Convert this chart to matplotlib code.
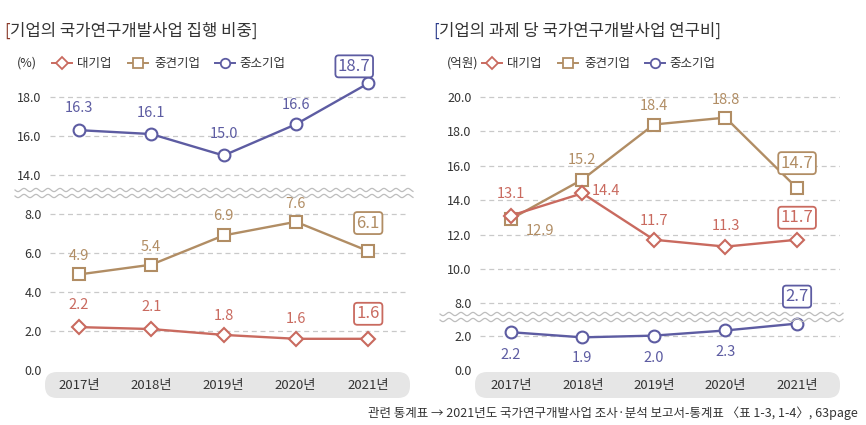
import numpy as np
import matplotlib
matplotlib.use("Agg")
import matplotlib.pyplot as plt
from matplotlib.lines import Line2D
from matplotlib.patches import FancyBboxPatch
from matplotlib.transforms import IdentityTransform

plt.rcParams['font.family'] = ['Noto Sans CJK KR', 'DejaVu Sans']

# ---------------- data ----------------
years = ['2017년', '2018년', '2019년', '2020년', '2021년']
series_names = ['대기업', '중견기업', '중소기업']

share_large = [2.2, 2.1, 1.8, 1.6, 1.6]
share_mid = [4.9, 5.4, 6.9, 7.6, 6.1]
share_small = [16.3, 16.1, 15.0, 16.6, 18.7]

cost_large = [13.1, 14.4, 11.7, 11.3, 11.7]
cost_mid = [12.9, 15.2, 18.4, 18.8, 14.7]
cost_small = [2.2, 1.9, 2.0, 2.3, 2.7]

left_title = '기업의 국가연구개발사업 집행 비중'
right_title = '기업의 과제 당 국가연구개발사업 연구비'
left_unit = '(%)'
right_unit = '(억원)'
footnote = '관련 통계표 → 2021년도 국가연구개발사업 조사·분석 보고서-통계표 〈표 1-3, 1-4〉, 63page'

# ---------------- style ----------------
W, H = 866, 425
C_RED = '#c96a5f'
C_TAN = '#b18d64'
C_PUR = '#5d5ca2'
C_TXT = '#333333'
C_GRID = '#c9c9c9'
MARK = {'대기업': ('D', 7.5), '중견기업': ('s', 8.5), '중소기업': ('o', 8.5)}
COL = {'대기업': C_RED, '중견기업': C_TAN, '중소기업': C_PUR}

fig = plt.figure(figsize=(W / 100, H / 100), dpi=100)
fig.patch.set_facecolor('white')


def rect(x0, y0, x1, y1):
    return [x0 / W, 1 - y1 / H, (x1 - x0) / W, (y1 - y0) / H]


def fx(x):
    return x / W


def fy(y):
    return 1 - y / H


def make_ax(r, ylim, ticks, xlim):
    ax = fig.add_axes(r)
    ax.set_facecolor('none')
    ax.set_xlim(*xlim)
    ax.set_ylim(*ylim)
    ax.set_yticks(ticks)
    ax.set_yticklabels([f'{t:.1f}' for t in ticks], fontsize=9, color=C_TXT)
    ax.tick_params(axis='y', length=0, pad=6)
    ax.set_xticks([])
    for s in ax.spines.values():
        s.set_visible(False)
    for t in ticks:
        if t > 0:
            ax.axhline(t, color=C_GRID, lw=0.9, ls=(0, (4, 3)), zorder=0)
    return ax


def plot_series(ax, vals, name, labels):
    m, ms = MARK[name]
    c = COL[name]
    x = np.arange(len(vals))
    ax.plot(x, vals, color=c, lw=1.7, marker=m, ms=ms, mfc='white', mec=c,
            mew=1.5, clip_on=False, zorder=3)
    for i, v in enumerate(vals):
        dx, dy = labels[i]
        if i == len(vals) - 1:
            ax.annotate(f'{v:.1f}', (i, v), xytext=(dx, dy), textcoords='offset pixels',
                        ha='center', va='center', fontsize=12, color=c,
                        annotation_clip=False, zorder=5,
                        bbox=dict(boxstyle='round,pad=0.15,rounding_size=0.2',
                                  fc='white', ec=c, lw=1.3))
        else:
            ax.annotate(f'{v:.1f}', (i, v), xytext=(dx, dy), textcoords='offset pixels',
                        ha='center', va='center', fontsize=10.5, color=c,
                        annotation_clip=False, zorder=5)


def wave(x0, x1, yc):
    xs = np.linspace(x0, x1, 600)
    for off in (-3, 3):
        ys = yc + off + 1.6 * np.sin(2 * np.pi * (xs - x0) / 12.0)
        fig.add_artist(Line2D(fx(xs), fy(ys), color='#bdbdbd', lw=0.9,
                              transform=fig.transFigure))


def band(x0, x1, xs_px):
    fig.add_artist(FancyBboxPatch((x0, H - 398), x1 - x0, 26,
                                  boxstyle='round,pad=0,rounding_size=12',
                                  transform=IdentityTransform(), fc='#e6e6e6', ec='none'))
    for xp, lab in zip(xs_px, years):
        fig.text(fx(xp), fy(386), lab, ha='center', va='center', fontsize=9.5, color=C_TXT)


def legend(x_unit, unit, items):
    fig.text(fx(x_unit), fy(63), unit, ha='left', va='center', fontsize=9, color=C_TXT)
    for (xl, xt), name in zip(items, series_names):
        m, ms = MARK[name]
        c = COL[name]
        fig.add_artist(Line2D([fx(xl), fx(xl + 20)], [fy(63), fy(63)], color=c, lw=1.4,
                              transform=fig.transFigure))
        fig.add_artist(Line2D([fx(xl + 10)], [fy(63)], color=c, marker=m, ms=ms * 0.8,
                              mfc='white', mec=c, mew=1.3, transform=fig.transFigure))
        fig.text(fx(xt), fy(63), name, ha='left', va='center', fontsize=9, color=C_TXT)


# ---------------- left panel ----------------
lxlim = (-0.40, 4.55)
axLT = make_ax(rect(50, 77.5, 408, 182.8), (13.6, 19.0), [14, 16, 18], lxlim)
axLB = make_ax(rect(50, 202.3, 408, 370), (0, 8.6), [0, 2, 4, 6, 8], lxlim)

plot_series(axLT, share_small, '중소기업',
            [(0, 22), (0, 21), (0, 21), (0, 19), (-14, 17)])
plot_series(axLB, share_mid, '중견기업',
            [(0, 18), (0, 18), (0, 19), (0, 18), (0, 28)])
plot_series(axLB, share_large, '대기업',
            [(0, 22), (0, 22), (0, 19), (0, 20), (0, 25)])

wave(15, 413, 193)
band(45, 410, [79, 151, 223, 295, 368])

fig.text(fx(4), fy(31), '[', ha='left', va='center', fontsize=12, color='#8a3a2a')
fig.text(fx(10), fy(31), left_title + ']', ha='left', va='center', fontsize=12, color=C_TXT)
legend(17, left_unit, [(52, 77), (128, 154), (215, 239)])

# ---------------- right panel ----------------
rxlim = (-0.43, 4.60)
axRT = make_ax(rect(480, 81.5, 840, 313.7), (7.4, 20.9), [8, 10, 12, 14, 16, 18, 20], rxlim)
axRB = make_ax(rect(480, 315, 840, 370), (0, 3.2), [0, 2], rxlim)

plot_series(axRT, cost_mid, '중견기업',
            [(29, -12), (0, 20), (0, 19), (0, 18), (0, 25)])
plot_series(axRT, cost_large, '대기업',
            [(0, 22), (24, 2), (0, 19), (0, 21), (0, 22)])
plot_series(axRB, cost_small, '중소기업',
            [(0, -23), (0, -21), (0, -22), (0, -22), (0, 27)])

wave(440, 843, 317)
band(475, 840, [511, 583, 654, 725, 797])

fig.text(fx(433), fy(31), '[', ha='left', va='center', fontsize=12, color='#2a3a8a')
fig.text(fx(439), fy(31), right_title + ']', ha='left', va='center', fontsize=12, color=C_TXT)
legend(447, right_unit, [(482, 507), (558, 584), (645, 669)])

# ---------------- footnote ----------------
fig.text(fx(858), fy(413), footnote, ha='right', va='center', fontsize=9,
         color=C_TXT, style='italic')

fig.savefig('out.png', dpi=100, facecolor='white')
